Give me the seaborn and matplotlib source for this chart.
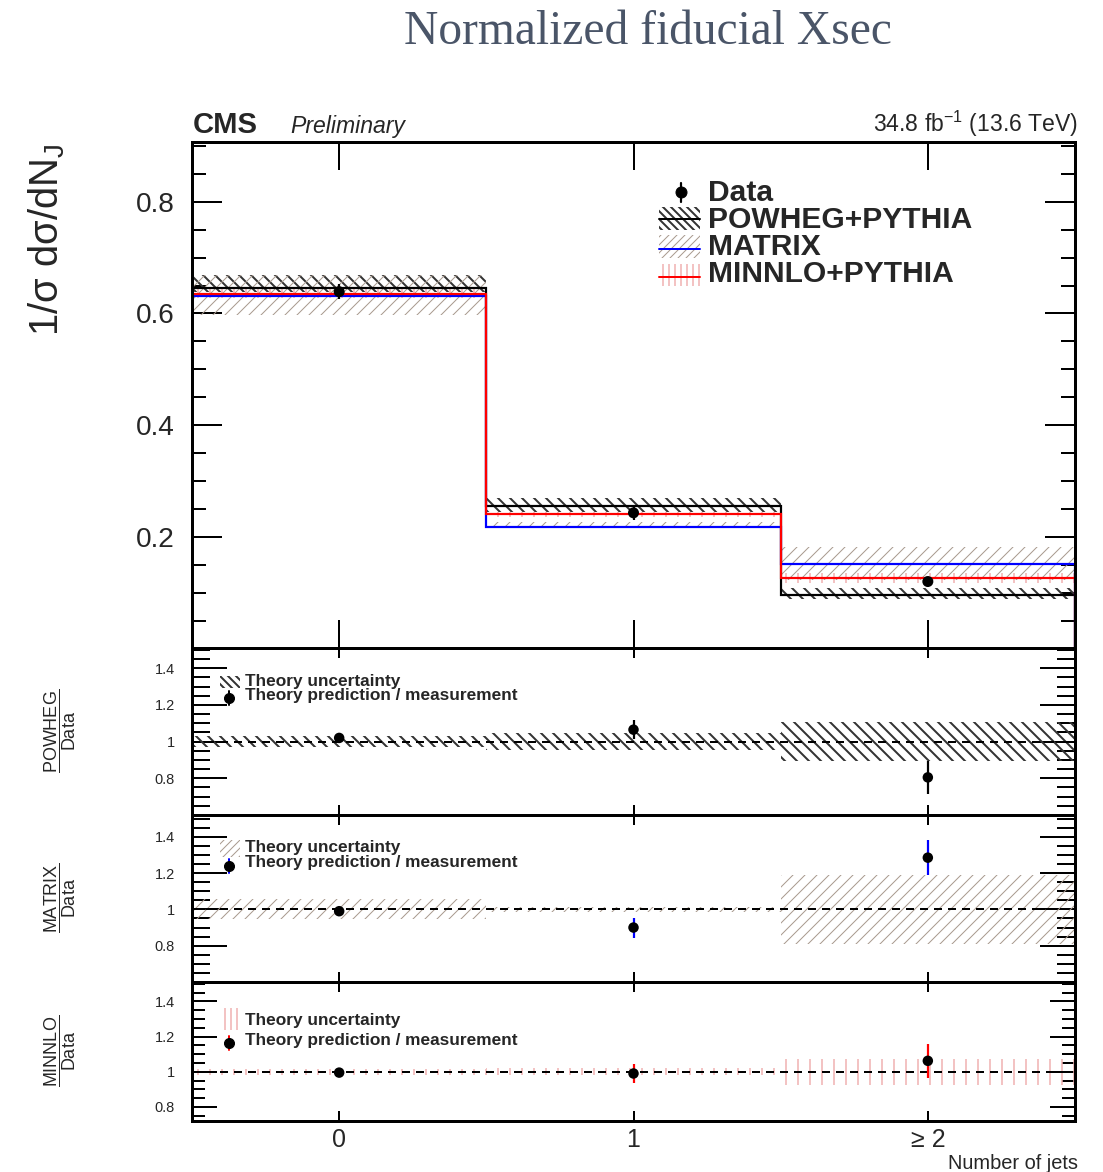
import matplotlib
matplotlib.use('Agg')
import matplotlib.pyplot as plt
import seaborn as sns
import numpy as np
from matplotlib.patches import Rectangle
from matplotlib.lines import Line2D
from matplotlib.ticker import MultipleLocator, FixedLocator

# ---------------- data ----------------
n_jets = [0, 1, 2]
bin_labels = ['0', '1', '≥ 2']
bin_edges = [-0.5, 0.5, 1.5, 2.5]

data_xsec = [0.639, 0.243, 0.120]
data_err = [0.014, 0.013, 0.008]

powheg_xsec = [0.646, 0.256, 0.096]
powheg_lo = [0.638, 0.245, 0.088]
powheg_hi = [0.668, 0.270, 0.108]

matrix_xsec = [0.632, 0.218, 0.152]
matrix_lo = [0.597, 0.216, 0.123]
matrix_hi = [0.668, 0.226, 0.181]

minnlo_xsec = [0.635, 0.241, 0.127]
minnlo_lo = [0.628, 0.236, 0.118]
minnlo_hi = [0.646, 0.245, 0.136]

ratio_powheg = [1.02, 1.065, 0.805]
ratio_powheg_err = [0.025, 0.05, 0.09]
band_powheg = [0.028, 0.045, 0.105]

ratio_matrix = [0.99, 0.90, 1.285]
ratio_matrix_err = [0.023, 0.055, 0.096]
band_matrix = [0.055, 0.015, 0.19]

ratio_minnlo = [0.995, 0.99, 1.062]
ratio_minnlo_err = [0.023, 0.055, 0.095]
band_minnlo = [0.018, 0.02, 0.075]

# ---------------- style ----------------
W, H, DPI = 1103, 1172, 72
sns.set_theme(style='ticks')
plt.rcParams['font.family'] = ['Liberation Sans', 'DejaVu Sans']
plt.rcParams['mathtext.fontset'] = 'custom'
plt.rcParams['mathtext.rm'] = 'Liberation Sans'
plt.rcParams['mathtext.it'] = 'Liberation Sans:italic'
plt.rcParams['mathtext.bf'] = 'Liberation Sans:bold'
plt.rcParams['hatch.linewidth'] = 1.5

C_POW = '#333333'
C_MAT = '#a89a8e'
C_MIN = '#f0b0b0'

fig = plt.figure(figsize=(W / DPI, H / DPI), dpi=DPI)
fig.patch.set_facecolor('white')


def fx(px):
    return px / W


def fy(py):
    return 1 - py / H


def add_axes(top, bottom):
    return fig.add_axes([fx(192), fy(bottom), fx(1075) - fx(192), (bottom - top) / H])


ax = add_axes(142, 648)
r1 = add_axes(648, 815)
r2 = add_axes(815, 982)
r3 = add_axes(982, 1121)


def hatch_bars(a, x, bottom, height, hatch, color, hlw):
    with plt.rc_context({'hatch.linewidth': hlw}):
        bars = a.bar(x, height, bottom=bottom, width=1.0, fill=False, hatch=hatch,
                     edgecolor=color, linewidth=0, zorder=1)
    for b in bars:
        if hasattr(b, 'set_hatch_linewidth'):
            b.set_hatch_linewidth(hlw)
    return bars


def style_axes(a, ylim, maj_len, min_len, xlen, minor=0.05):
    a.set_xlim(-0.5, 2.5)
    a.set_ylim(*ylim)
    a.set_xticks(n_jets)
    a.yaxis.set_minor_locator(MultipleLocator(minor))
    a.tick_params(axis='y', which='major', direction='in', left=True, right=True,
                  length=maj_len, width=2, color='black', pad=17)
    a.tick_params(axis='y', which='minor', direction='in', left=True, right=True,
                  length=min_len, width=2, color='black')
    a.tick_params(axis='x', which='major', direction='in', top=True, bottom=True,
                  length=xlen, width=2, color='black')
    a.tick_params(axis='x', which='minor', bottom=False, top=False)
    for s in a.spines.values():
        s.set_linewidth(3)
        s.set_color('black')
        s.set_visible(True)
        s.set_zorder(4)
    a.set_xlabel('')
    a.set_ylabel('')


# ---------------- main panel ----------------
lo = np.array(powheg_lo); hi = np.array(powheg_hi)
hatch_bars(ax, n_jets, lo, hi - lo, '\\\\', C_POW, 2.0)
lo = np.array(matrix_lo); hi = np.array(matrix_hi)
hatch_bars(ax, n_jets, lo, hi - lo, '//', C_MAT, 1.0)
lo = np.array(minnlo_lo); hi = np.array(minnlo_hi)
hatch_bars(ax, n_jets, lo, hi - lo, '|', C_MIN, 1.5)

ax.stairs(powheg_xsec, bin_edges, baseline=0, color='black', lw=2.2, zorder=3)
ax.stairs(matrix_xsec, bin_edges, baseline=0, color='#0000ff', lw=2.2, zorder=3)
ax.stairs(minnlo_xsec, bin_edges, baseline=0, color='#ff0000', lw=2.2, zorder=3)

ax.errorbar(n_jets, data_xsec, yerr=data_err, fmt='none', ecolor='black',
            elinewidth=2.2, capsize=0, zorder=5)
sns.scatterplot(x=n_jets, y=data_xsec, color='black', s=121, edgecolor='none',
                ax=ax, zorder=6, legend=False)

style_axes(ax, (0.001, 0.907), 30, 14, 28)
ax.set_yticks([0.2, 0.4, 0.6, 0.8])
ax.set_yticklabels(['0.2', '0.4', '0.6', '0.8'])
ax.tick_params(axis='y', labelsize=28)
ax.tick_params(axis='x', labelbottom=False)

# ---------------- ratio panels ----------------
ratio_specs = [
    (r1, ratio_powheg, ratio_powheg_err, band_powheg, '\\\\', C_POW, 2.0, 'black', (0.6, 1.51), 35, 18),
    (r2, ratio_matrix, ratio_matrix_err, band_matrix, '//', C_MAT, 1.0, '#0000ff', (0.6, 1.52), 35, 18),
    (r3, ratio_minnlo, ratio_minnlo_err, band_minnlo, '|', C_MIN, 1.5, '#ff0000', (0.72, 1.51), 25, 13),
]
for a, rv, re, band, hatch, hc, hlw, ecol, ylim, ml, mnl in ratio_specs:
    band = np.array(band)
    hatch_bars(a, n_jets, 1 - band, 2 * band, hatch, hc, hlw)
    a.axhline(1.0, color='black', lw=2, ls=(0, (4, 3)), zorder=2)
    a.errorbar(n_jets, rv, yerr=re, fmt='none', ecolor=ecol, elinewidth=2.2,
               capsize=0, zorder=5)
    sns.scatterplot(x=n_jets, y=rv, color='black', s=110, edgecolor='none',
                    ax=a, zorder=6, legend=False)
    style_axes(a, ylim, ml, mnl, 10)
    a.yaxis.set_major_locator(FixedLocator([0.8, 1.0, 1.2, 1.4]))
    a.set_yticklabels(['0.8', '1', '1.2', '1.4'])
    a.tick_params(axis='y', labelsize=14.5)
    a.tick_params(axis='x', labelbottom=False)

r3.set_xticks(n_jets)
r3.set_xticklabels(bin_labels)
r3.tick_params(axis='x', labelbottom=True, labelsize=25, pad=7)

# ---------------- main legend (manual) ----------------
def fig_line(xs, ys, **kw):
    fig.add_artist(Line2D([fx(x) for x in xs], [fy(y) for y in ys],
                          transform=fig.transFigure, **kw))


def fig_hatch_box(x0, x1, y0, y1, hatch, color, hlw):
    with plt.rc_context({'hatch.linewidth': hlw}):
        r = Rectangle((fx(x0), fy(y1)), fx(x1) - fx(x0), (y1 - y0) / H,
                      transform=fig.transFigure, fill=False, hatch=hatch,
                      edgecolor=color, linewidth=0)
    if hasattr(r, 'set_hatch_linewidth'):
        r.set_hatch_linewidth(hlw)
    fig.add_artist(r)


leg_fs = 30
fig_line([681, 681], [183, 202], color='black', lw=2.2)
fig_line([681], [192], color='black', marker='o', markersize=11, lw=0)
fig.text(fx(708), fy(201), 'Data', fontsize=leg_fs, fontweight='bold', va='baseline')

fig_hatch_box(659, 700, 207, 230, '\\\\\\', C_POW, 2.0)
fig_line([659, 700], [219, 219], color='black', lw=2)
fig.text(fx(708), fy(228), 'POWHEG+PYTHIA', fontsize=leg_fs, fontweight='bold', va='baseline')

fig_hatch_box(659, 700, 235, 258, '///', C_MAT, 1.0)
fig_line([659, 700], [249, 249], color='#0000ff', lw=2)
fig.text(fx(708), fy(255), 'MATRIX', fontsize=leg_fs, fontweight='bold', va='baseline')

fig_hatch_box(659, 700, 264, 286, '||', C_MIN, 1.5)
fig_line([659, 700], [277, 277], color='#ff0000', lw=2)
fig.text(fx(708), fy(282), 'MINNLO+PYTHIA', fontsize=leg_fs, fontweight='bold', va='baseline')

# ---------------- ratio legends ----------------
rleg = [
    ((220, 240, 676, 688), '\\\\\\', C_POW, 2.0, 'black', 686, 700, 698),
    ((220, 240, 840, 857), '///', C_MAT, 1.0, '#0000ff', 852, 867, 866),
    ((222, 238, 1008, 1030), '||', C_MIN, 1.5, '#ff0000', 1025, 1045, 1043),
]
for (x0, x1, y0, y1), hatch, hc, hlw, ecol, b1, b2, dy in rleg:
    fig_hatch_box(x0, x1, y0, y1, hatch, hc, hlw)
    fig_line([229, 229], [dy - 7, dy + 7], color=ecol, lw=2)
    fig_line([229], [dy], color='black', marker='o', markersize=10, lw=0)
    fig.text(fx(245), fy(b1), 'Theory uncertainty', fontsize=17.3, fontweight='bold', va='baseline')
    fig.text(fx(245), fy(b2), 'Theory prediction / measurement', fontsize=17.3,
             fontweight='bold', va='baseline')

# ---------------- labels ----------------
fig.text(fx(47), fy(143), '1/σ dσ/dN$_\\mathregular{J}$', rotation=90, fontsize=40,
         ha='center', va='top')
fig.text(fx(60), fy(731), r'$\dfrac{\mathrm{POWHEG}}{\mathrm{Data}}$', rotation=90,
         fontsize=18, ha='center', va='center')
fig.text(fx(60), fy(898), r'$\dfrac{\mathrm{MATRIX}}{\mathrm{Data}}$', rotation=90,
         fontsize=18, ha='center', va='center')
fig.text(fx(60), fy(1051), r'$\dfrac{\mathrm{MINNLO}}{\mathrm{Data}}$', rotation=90,
         fontsize=18, ha='center', va='center')

fig.text(fx(1078), fy(1169), 'Number of jets', fontsize=20, ha='right', va='baseline')

fig.text(fx(193), fy(133), 'CMS', fontsize=29.3, fontweight='bold', va='baseline')
fig.text(fx(290), fy(133), 'Preliminary', fontsize=23, style='italic', va='baseline')
fig.text(fx(1078), fy(132), '34.8 fb$^{\\mathregular{-1}}$ (13.6 TeV)', fontsize=23,
         ha='right', va='baseline')

fig.text(fx(648), fy(44), 'Normalized fiducial Xsec', fontsize=47.5,
         family=['Liberation Serif', 'DejaVu Serif'], color='#4a5568',
         ha='center', va='baseline')

fig.savefig('out.png', dpi=DPI, facecolor='white')
